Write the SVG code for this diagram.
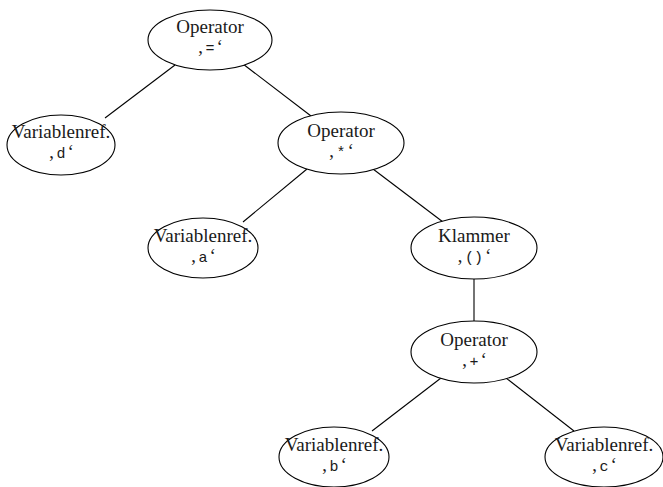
<svg xmlns="http://www.w3.org/2000/svg" width="663" height="487" viewBox="0 0 663 487">
  <style>
    .node ellipse { fill: #ffffff; stroke: #000000; stroke-width: 1.1; }
    .node text { font-family: "Liberation Serif", "DejaVu Serif", serif; font-size: 19px; fill: #1a1a1a; text-anchor: middle; }
    .node .sym { font-family: "Liberation Mono", "DejaVu Sans Mono", monospace; font-size: 15px; }
    #edges line { stroke: #000000; stroke-width: 1.1; }
  </style>
  <rect width="663" height="487" fill="#ffffff"/>

  <!-- tree edges -->
  <g id="edges">
    <line x1="175" y1="65" x2="105" y2="118"/>
    <line x1="243" y1="64" x2="311" y2="116"/>
    <line x1="307" y1="169" x2="243" y2="222"/>
    <line x1="373" y1="169" x2="443" y2="222"/>
    <line x1="474" y1="279" x2="474" y2="321"/>
    <line x1="441" y1="378" x2="372" y2="431"/>
    <line x1="506" y1="378" x2="574" y2="431"/>
  </g>

  <!-- assignment root -->
  <g id="op-assign" class="node">
    <ellipse cx="210" cy="40" rx="62" ry="30"/>
    <text x="210" y="33">Operator</text>
    <text x="210" y="53">‚<tspan class="sym" dx="2">=</tspan><tspan dx="2">‘</tspan></text>
  </g>

  <g id="var-d" class="node">
    <ellipse cx="61" cy="145" rx="54" ry="30"/>
    <text x="61" y="138">Variablenref.</text>
    <text x="61" y="158">‚<tspan class="sym" dx="2">d</tspan><tspan dx="2">‘</tspan></text>
  </g>

  <g id="op-mul" class="node">
    <ellipse cx="341" cy="143" rx="63" ry="31"/>
    <text x="341" y="137">Operator</text>
    <text x="341" y="157">‚<tspan class="sym" dx="2">*</tspan><tspan dx="2">‘</tspan></text>
  </g>

  <g id="var-a" class="node">
    <ellipse cx="203" cy="248" rx="55" ry="30"/>
    <text x="203" y="242">Variablenref.</text>
    <text x="203" y="262">‚<tspan class="sym" dx="2">a</tspan><tspan dx="2">‘</tspan></text>
  </g>

  <g id="paren" class="node">
    <ellipse cx="474" cy="248" rx="63" ry="31"/>
    <text x="474" y="242">Klammer</text>
    <text x="474" y="262">‚<tspan class="sym" dx="2">()</tspan><tspan dx="2">‘</tspan></text>
  </g>

  <g id="op-add" class="node">
    <ellipse cx="474" cy="352" rx="63" ry="31"/>
    <text x="474" y="346">Operator</text>
    <text x="474" y="366">‚<tspan class="sym" dx="2">+</tspan><tspan dx="2">‘</tspan></text>
  </g>

  <g id="var-b" class="node">
    <ellipse cx="334" cy="457" rx="55" ry="30"/>
    <text x="334" y="451">Variablenref.</text>
    <text x="334" y="471">‚<tspan class="sym" dx="2">b</tspan><tspan dx="2">‘</tspan></text>
  </g>

  <g id="var-c" class="node">
    <ellipse cx="604" cy="457" rx="59" ry="30"/>
    <text x="604" y="451">Variablenref.</text>
    <text x="604" y="471">‚<tspan class="sym" dx="2">c</tspan><tspan dx="2">‘</tspan></text>
  </g>
</svg>
